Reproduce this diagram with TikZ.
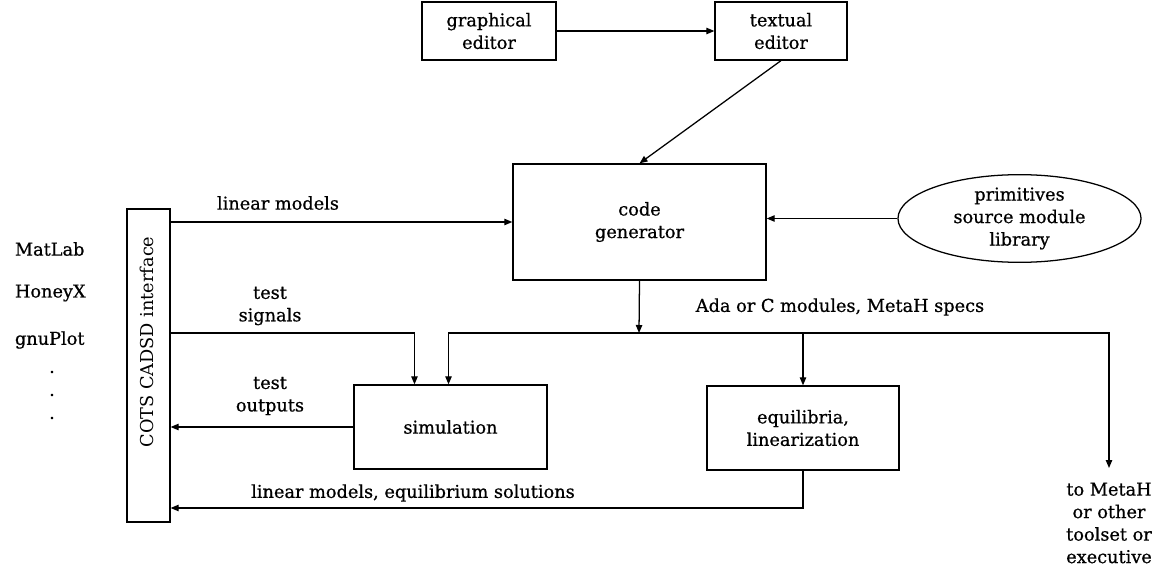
\documentclass[tikz,border=0pt]{standalone}
\usepackage{fontspec}
\setmainfont{DejaVu Serif}[BoldFont={DejaVu Serif}, BoldFeatures={FakeBold=0.7}]
\usetikzlibrary{arrows.meta, shapes.geometric}

\begin{document}
\begin{tikzpicture}[x=0.025cm, y=-0.025cm,
  every node/.style={font=\fontsize{12.6}{16}\selectfont\bfseries, align=center},
  box/.style={draw, line width=0.9pt, inner sep=0pt},
  arr/.style={-{Triangle[length=2mm,width=1.6mm]}, line width=0.9pt},
  ln/.style={line width=0.9pt}]
\useasboundingbox (0,0) rectangle (1157,571);

% boxes
\node[box, minimum width=3.35cm, minimum height=1.45cm] (ge) at (489,31) {graphical\\editor};
\node[box, minimum width=3.3cm, minimum height=1.45cm] (te) at (781,31) {textual\\editor};
\node[box, minimum width=6.325cm, minimum height=2.9cm] (cg) at (639.5,222) {code\\generator};
\node[box, ellipse, minimum width=6.075cm, minimum height=2.075cm] (lib) at (1019.5,218.5) {primitives\\source module\\library};
\node[box, minimum width=1.075cm, minimum height=7.825cm] (cots) at (148.5,365.5) {};
\node[rotate=90, font=\fontsize{12.6}{16}\selectfont] (cotstxt) at (147,342) {COTS CADSD interface};
\node[box, minimum width=4.825cm, minimum height=2.1cm] (sim) at (450.5,427) {simulation};
\node[box, minimum width=4.8cm, minimum height=2.1cm] (eq) at (803,428) {equilibria,\\linearization};

% tools
\node[anchor=west] (matlab) at (10,249) {MatLab};
\node[anchor=west] (honeyx) at (10,293) {HoneyX};
\node[anchor=west] (gnuplot) at (10,340) {gnuPlot};
\foreach \y/\n in {372/1, 395/2, 418/3}
  \node[inner sep=0pt] (dot\n) at (52,\y) {.};

% junction points
\coordinate (bus) at (639,333);
\coordinate (tomh) at (1109,468);
\coordinate (ret) at (803,508);

% connectors
\draw[arr] (ge.east) -- (te.west);
\draw[arr] (te.south) -- (cg.north);
\draw[arr] (lib.west) -- (lib.west -| cg.east);
\draw[arr] (cots.east |- cg.west) -- (cg.west);
\draw[arr] (cg.south) -- (bus);
\draw[arr] (cots.east |- bus) -| ([xshift=-0.9cm]sim.north);
\draw[arr] (bus) -| ([xshift=-0.05cm]sim.north);
\draw[arr] (bus) -| (tomh);
\draw[arr] (eq.north |- bus) -- (eq.north);
\draw[arr] (sim.west) -- (sim.west -| cots.east);
\draw[arr] (eq.south) |- (ret -| cots.east);

% labels
\node (lmlab) at (278,203) {linear models};
\node (tslab) at (270,306) {test\\signals};
\node (tolab) at (270,396) {test\\outputs};
\node (adalab) at (840,307) {Ada or C modules, MetaH specs};
\node (leqlab) at (413,493) {linear models, equilibrium solutions};
\node (mhlab) at (1109,523) {to MetaH\\or other\\toolset or\\executive};
\end{tikzpicture}
\end{document}
